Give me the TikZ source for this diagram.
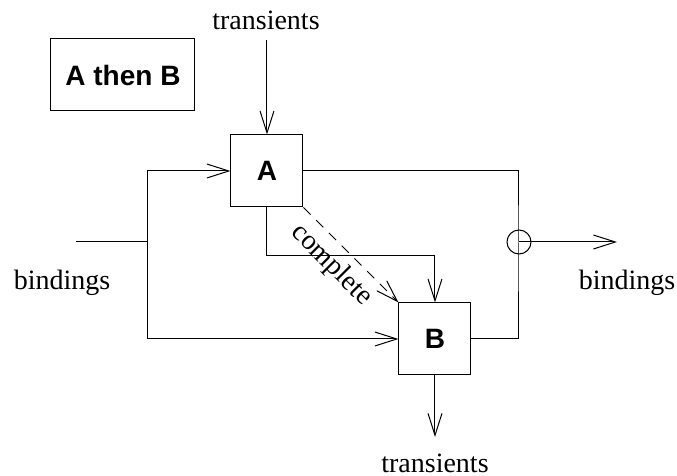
\documentclass[tikz,border=0pt]{standalone}
\usepackage{fontspec}
\setmainfont{Liberation Serif}
\setsansfont{Liberation Sans}
\usetikzlibrary{arrows.meta}

\tikzset{
  blk/.style={draw, minimum size=36pt, inner sep=0pt,
    font=\sffamily\bfseries\fontsize{14}{16}\selectfont},
  lbl/.style={font=\fontsize{14}{16}\selectfont, inner sep=0pt},
}

\begin{document}
\begin{tikzpicture}[x=0.5pt, y=-0.5pt, line width=0.5pt,
    >={Straight Barb[length=11pt,width=7pt]}]
\useasboundingbox (0,0) rectangle (677,476);

\node[blk, minimum width=72pt] (title) at (123,75) {A then B};
\node[blk] (A) at (267,171) {A};
\node[blk] (B) at (435,339) {B};

\node[lbl] (tin) at (266,20) {transients};
\node[lbl] (tout) at (435,463) {transients};
\node[lbl] (bin) at (62,283) {bindings};
\node[lbl] (bout) at (627,283) {bindings};

\coordinate (in) at (76,242);
\coordinate (split) at (148,242);
\coordinate (merge) at (519,242);
\coordinate (out) at (617,242);
\coordinate (tintail) at (267,40);
\coordinate (touthead) at (435,437);

\draw (in) -- (split);
\draw[->] (split) |- (A.west);
\draw[->] (split) |- (B.west);
\draw (A.east) -| (merge) |- (B.east);
\draw (merge) circle[radius=6pt];
\draw[->] (merge) -- (out);
\draw[->] (tintail) -- (A.north);
\draw[->] (A.south) -- ++(0,48) -| (B.north);
\draw[->, dash pattern=on 5pt off 4pt] (A.south east) --
  node[lbl, sloped, below=4pt, pos=0.45] {complete} (B.north west);
\draw[->] (B.south) -- (touthead);
\end{tikzpicture}
\end{document}
